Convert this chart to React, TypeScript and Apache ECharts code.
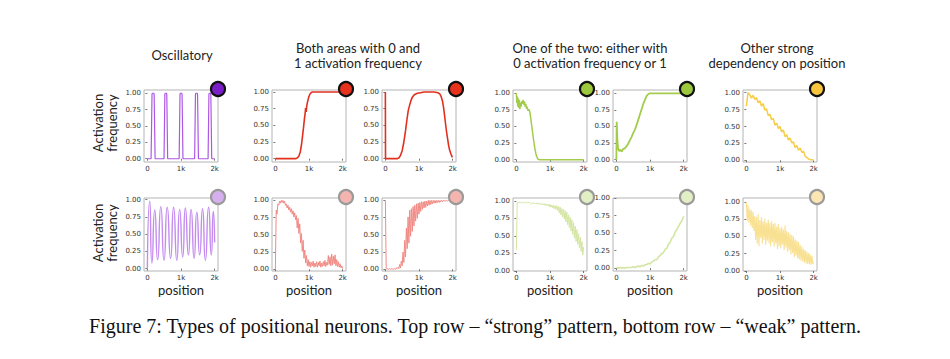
import React, { useEffect, useRef } from "react";
import * as echarts from "echarts";

// ---------- data (x = position 0..2000, y = activation frequency) ----------
const X_TICKS = [0, 1000, 2000];
const Y_TICKS = [0, 0.25, 0.5, 0.75, 1];
const GROUP_TITLES = [
  ["Oscillatory"],
  ["Both areas with 0 and", "1 activation frequency"],
  ["One of the two: either with", "0 activation frequency or 1"],
  ["Other strong", "dependency on position"],
];
const Y_LABEL = ["Activation", "frequency"];
const X_LABEL = "position";
const CAPTION =
  "Figure 7: Types of positional neurons. Top row \u2013 \u201cstrong\u201d pattern, bottom row \u2013 \u201cweak\u201d pattern.";

// explicit [position, value] points
const oscStrong = [
  [0, 0], [110, 0], [125, 0.5], [138, 0.98], [145, 1], [195, 1], [202, 0.98], [215, 0.5], [230, 0],
  [495, 0], [508, 0.5], [520, 0.98], [527, 1], [570, 1], [577, 0.98], [590, 0.5], [603, 0],
  [945, 0], [958, 0.5], [970, 0.98], [977, 1], [1025, 1], [1032, 0.98], [1045, 0.5], [1058, 0],
  [1405, 0], [1418, 0.5], [1430, 0.98], [1437, 1], [1485, 1], [1492, 0.98], [1505, 0.5], [1518, 0],
  [1805, 0], [1818, 0.5], [1830, 0.98], [1837, 1], [1880, 1], [1887, 0.98], [1900, 0.5], [1913, 0],
  [2000, 0],
];
const oscWeak = [
  [0, 0.01], [70, 0.98], [135, 0.08], [220, 0.85], [305, 0.13], [400, 0.9], [495, 0.12], [590, 0.89],
  [690, 0.15], [780, 0.89], [875, 0.12], [960, 0.86], [1050, 0.17], [1130, 0.88], [1220, 0.2],
  [1300, 0.86], [1390, 0.15], [1470, 0.82], [1555, 0.2], [1640, 0.87], [1725, 0.12], [1820, 0.89],
  [1900, 0.2], [1960, 0.83], [2000, 0.38],
];
const bothStrongA = [
  [0, 0], [600, 0], [650, 0.01], [700, 0.04], [740, 0.1], [780, 0.22], [810, 0.35], [840, 0.48],
  [865, 0.6], [885, 0.68], [900, 0.76], [915, 0.7], [935, 0.8], [960, 0.86], [990, 0.92],
  [1020, 0.96], [1060, 0.99], [1100, 1], [2000, 1],
];
const bothStrongB = [
  [0, 1], [5, 0], [350, 0], [400, 0.01], [450, 0.05], [500, 0.12], [550, 0.25], [600, 0.42],
  [640, 0.58], [680, 0.72], [720, 0.8], [760, 0.87], [800, 0.92], [860, 0.96], [950, 0.98],
  [1050, 0.99], [1150, 1], [1450, 1], [1560, 0.99], [1620, 0.97], [1660, 0.93], [1700, 0.86],
  [1730, 0.77], [1760, 0.65], [1790, 0.52], [1820, 0.4], [1850, 0.3], [1880, 0.2], [1910, 0.13],
  [1950, 0.07], [1990, 0.02],
];
const oneStrongA = [
  [0, 1.0], [15, 0.85], [30, 0.95], [45, 0.8], [60, 0.92], [75, 0.78], [90, 0.9], [105, 0.76],
  [120, 0.86], [140, 0.8], [160, 0.88], [180, 0.84], [200, 0.9], [220, 0.83], [240, 0.88],
  [260, 0.8], [280, 0.84], [300, 0.77], [320, 0.8], [340, 0.74], [370, 0.76], [400, 0.72],
  [430, 0.62], [460, 0.5], [490, 0.38], [520, 0.27], [550, 0.17], [580, 0.09], [610, 0.04],
  [640, 0.01], [680, 0], [2000, 0],
];
const oneStrongB = [
  [0, 0], [10, 0.57], [30, 0.3], [50, 0.17], [80, 0.13], [120, 0.15], [160, 0.12], [200, 0.16],
  [250, 0.17], [300, 0.2], [350, 0.24], [400, 0.29], [450, 0.34], [500, 0.4], [550, 0.45],
  [600, 0.52], [650, 0.6], [700, 0.68], [750, 0.76], [800, 0.84], [850, 0.9], [900, 0.96],
  [950, 0.99], [1000, 1.0], [2000, 1.0],
];

// evenly spaced values (step 25 → 81 values, step 50 → 41 values)
const bothWeakA = [
  0.0, 0.86, 0.8, 0.95, 0.93, 0.99, 0.96, 1.0, 0.97, 1.0, 0.96, 0.99, 0.93, 0.95, 0.89, 0.93,
  0.86, 0.9, 0.83, 0.88, 0.8, 0.85, 0.76, 0.82, 0.72, 0.78, 0.6, 0.74, 0.52, 0.66, 0.38, 0.52,
  0.26, 0.42, 0.16, 0.28, 0.09, 0.2, 0.05, 0.14, 0.04, 0.11, 0.03, 0.1, 0.05, 0.12, 0.03, 0.09,
  0.04, 0.11, 0.03, 0.1, 0.05, 0.12, 0.03, 0.09, 0.04, 0.11, 0.05, 0.13, 0.04, 0.1, 0.06, 0.2,
  0.07, 0.18, 0.05, 0.22, 0.06, 0.19, 0.08, 0.21, 0.05, 0.14, 0.04, 0.11, 0.03, 0.08, 0.02, 0.05,
  0.01,
];
const bothWeakB = [
  1.0, 0.01, 0.0, 0.01, 0.0, 0.01, 0.0, 0.01, 0.0, 0.01, 0.0, 0.01, 0.0, 0.02, 0.01, 0.03,
  0.01, 0.07, 0.02, 0.12, 0.05, 0.25, 0.1, 0.42, 0.18, 0.6, 0.3, 0.76, 0.38, 0.86, 0.48, 0.88,
  0.55, 0.91, 0.63, 0.93, 0.7, 0.95, 0.74, 0.96, 0.8, 0.97, 0.84, 0.98, 0.87, 0.98, 0.89, 0.99,
  0.9, 0.99, 0.92, 1.0, 0.93, 1.0, 0.94, 1.0, 0.95, 1.0, 0.96, 1.0, 0.96, 1.0, 0.97, 1.0,
  0.97, 1.0, 0.98, 1.0, 0.98, 1.0, 0.99, 1.0, 0.99, 1.0, 0.99, 1.0, 1.0, 1.0, 1.0, 1.0,
  1.0,
];
const oneWeakA = [
  0.3, 0.97, 0.98, 0.97, 0.98, 0.97, 0.98, 0.97, 0.98, 0.97, 0.98, 0.97, 0.98, 0.97, 0.98, 0.97,
  0.97, 0.96, 0.97, 0.96, 0.97, 0.96, 0.97, 0.96, 0.97, 0.95, 0.97, 0.95, 0.96, 0.95, 0.96, 0.94,
  0.96, 0.94, 0.96, 0.93, 0.95, 0.93, 0.95, 0.92, 0.95, 0.91, 0.94, 0.9, 0.94, 0.89, 0.93, 0.88,
  0.93, 0.86, 0.92, 0.83, 0.91, 0.8, 0.89, 0.77, 0.88, 0.74, 0.86, 0.7, 0.84, 0.66, 0.8, 0.62,
  0.77, 0.57, 0.73, 0.52, 0.69, 0.47, 0.64, 0.42, 0.59, 0.38, 0.53, 0.33, 0.48, 0.28, 0.42, 0.23,
  0.34,
];
const oneWeakB = [
  0.01, 0.0, 0.01, 0.0, 0.01, 0.0, 0.01, 0.01, 0.01, 0.01, 0.02, 0.01, 0.02, 0.03, 0.02, 0.04,
  0.03, 0.05, 0.05, 0.07, 0.06, 0.09, 0.1, 0.12, 0.12, 0.16, 0.18, 0.21, 0.22, 0.27, 0.28, 0.34,
  0.37, 0.43, 0.45, 0.52, 0.55, 0.6, 0.64, 0.68, 0.74,
];
const otherStrong = [
  0.8, 1.0, 0.97, 0.92, 0.96, 0.9, 0.93, 0.85, 0.88, 0.8, 0.84, 0.74, 0.76, 0.66, 0.68, 0.6,
  0.62, 0.52, 0.55, 0.47, 0.5, 0.42, 0.45, 0.35, 0.38, 0.3, 0.33, 0.26, 0.27, 0.19, 0.22, 0.15,
  0.18, 0.12, 0.13, 0.06, 0.04, 0.02, 0.01, 0.01, 0.0,
];
const otherWeak = [
  1.0, 0.72, 0.95, 0.7, 0.9, 0.66, 0.88, 0.62, 0.86, 0.58, 0.8, 0.45, 0.78, 0.4, 0.82, 0.36,
  0.74, 0.48, 0.78, 0.4, 0.72, 0.45, 0.76, 0.38, 0.7, 0.44, 0.74, 0.4, 0.7, 0.36, 0.72, 0.42,
  0.68, 0.35, 0.7, 0.4, 0.64, 0.32, 0.68, 0.36, 0.62, 0.33, 0.64, 0.38, 0.6, 0.3, 0.66, 0.34,
  0.58, 0.28, 0.56, 0.3, 0.54, 0.24, 0.52, 0.26, 0.5, 0.2, 0.46, 0.22, 0.44, 0.18, 0.42, 0.17,
  0.38, 0.15, 0.35, 0.14, 0.32, 0.12, 0.3, 0.11, 0.28, 0.1, 0.26, 0.1, 0.24, 0.09, 0.22, 0.1,
  0.13,
];

const spaced = (ys: number[], step: number) => ys.map((y, i) => [i * step, y]);

// ---------- layout & styles ----------
const COL_LEFT = [144, 272, 382, 513, 613, 743];
const COL_TITLE_X = [182, 358, 590, 777];
const PLOT_W = 74;
const ROW_TOP = [90, 198];
const ROW_H = [72, 73];

type Panel = {
  col: number;
  row: number;
  data: number[][];
  line: string;
  dot: string;
  ring: string;
  ymin: number;
  ymax: number;
  width: number;
  smooth?: number;
};

const panels: Panel[] = [
  { col: 0, row: 0, data: oscStrong, line: "#ad58e4", dot: "#7a1fc8", ring: "#111", ymin: -0.05, ymax: 1.05, width: 1.2 },
  { col: 1, row: 0, data: bothStrongA, line: "#e2301f", dot: "#e8321e", ring: "#111", ymin: -0.05, ymax: 1.03, width: 1.6 },
  { col: 2, row: 0, data: bothStrongB, line: "#e2301f", dot: "#e8321e", ring: "#111", ymin: -0.05, ymax: 1.03, width: 1.6 },
  { col: 3, row: 0, data: oneStrongA, line: "#a3cc4a", dot: "#9bc83c", ring: "#111", ymin: -0.035, ymax: 1.05, width: 1.5 },
  { col: 4, row: 0, data: oneStrongB, line: "#a3cc4a", dot: "#9bc83c", ring: "#111", ymin: -0.035, ymax: 1.05, width: 1.8 },
  { col: 5, row: 0, data: spaced(otherStrong, 50), line: "#f6cd45", dot: "#f7c63d", ring: "#111", ymin: -0.025, ymax: 1.04, width: 1.5 },
  { col: 0, row: 1, data: oscWeak, line: "#c58cef", dot: "#d6b0ee", ring: "#9a9a9a", ymin: -0.035, ymax: 1.025, width: 1.4, smooth: 0.7 },
  { col: 1, row: 1, data: spaced(bothWeakA, 25), line: "#f08a84", dot: "#f4b5b1", ring: "#9a9a9a", ymin: -0.025, ymax: 1.035, width: 1 },
  { col: 2, row: 1, data: spaced(bothWeakB, 25), line: "#f08a84", dot: "#f4b5b1", ring: "#9a9a9a", ymin: -0.025, ymax: 1.035, width: 1 },
  { col: 3, row: 1, data: spaced(oneWeakA, 25), line: "#d3e5a2", dot: "#e2efc4", ring: "#9a9a9a", ymin: 0, ymax: 1.04, width: 1 },
  { col: 4, row: 1, data: spaced(oneWeakB, 50), line: "#d3e5a2", dot: "#e2efc4", ring: "#9a9a9a", ymin: -0.04, ymax: 1.0, width: 1.6 },
  { col: 5, row: 1, data: spaced(otherWeak, 25), line: "#f9e194", dot: "#fbe6b3", ring: "#9a9a9a", ymin: 0, ymax: 1.057, width: 1.1 },
];

const SANS = "Lato, 'Open Sans', sans-serif";
const TEXT = "#222";

export default function App() {
  const ref = useRef<HTMLDivElement>(null);

  useEffect(() => {
    document.body.style.margin = "0";
    if (!ref.current) return;
    const chart = echarts.init(ref.current, undefined, { renderer: "svg" });

    const grid = panels.map((p) => ({
      left: COL_LEFT[p.col],
      top: ROW_TOP[p.row],
      width: PLOT_W,
      height: ROW_H[p.row],
      show: true,
      borderColor: "#b4b4b4",
      borderWidth: 1,
      containLabel: false,
    }));

    const xAxis = panels.map((_, i) => ({
      type: "value",
      gridIndex: i,
      min: -100,
      max: 2100,
      axisLine: { show: false },
      splitLine: { show: false },
      axisTick: { show: true, customValues: X_TICKS, length: 2, lineStyle: { color: "#555", width: 0.8 } },
      axisLabel: {
        customValues: X_TICKS,
        formatter: (v: number) => (v === 0 ? "0" : `${v / 1000}k`),
        fontSize: 7,
        color: "#333",
        margin: 3,
        fontFamily: "DejaVu Sans",
      },
    }));

    const yAxis = panels.map((p, i) => ({
      type: "value",
      gridIndex: i,
      min: p.ymin,
      max: p.ymax,
      axisLine: { show: false },
      splitLine: { show: false },
      axisTick: { show: true, customValues: Y_TICKS, length: 2, lineStyle: { color: "#555", width: 0.8 } },
      axisLabel: {
        customValues: Y_TICKS,
        formatter: (v: number) => v.toFixed(2),
        fontSize: 7,
        color: "#333",
        margin: 3,
        fontFamily: "DejaVu Sans",
      },
    }));

    const series = panels.map((p, i) => ({
      type: "line",
      xAxisIndex: i,
      yAxisIndex: i,
      data: p.data,
      symbol: "none",
      showSymbol: false,
      smooth: p.smooth ?? false,
      clip: true,
      lineStyle: { color: p.line, width: p.width },
      itemStyle: { color: p.line },
      z: 2,
    }));

    const graphic: any[] = [];
    // colored markers at the top-right corner of each panel
    panels.forEach((p) => {
      graphic.push({
        type: "circle",
        shape: { cx: COL_LEFT[p.col] + PLOT_W, cy: ROW_TOP[p.row] - 1, r: 7 },
        style: { fill: p.dot, stroke: p.ring, lineWidth: 2.2 },
        z: 10,
      });
    });
    // group titles
    GROUP_TITLES.forEach((lines, g) => {
      const y0 = lines.length === 1 ? 55 : 48;
      lines.forEach((t, k) => {
        graphic.push({
          type: "text",
          x: COL_TITLE_X[g],
          y: y0 + k * 15,
          style: { text: t, fill: TEXT, font: `13px ${SANS}`, align: "center", verticalAlign: "middle" },
        });
      });
    });
    // y labels
    [123, 233].forEach((cy) => {
      Y_LABEL.forEach((t, k) => {
        graphic.push({
          type: "text",
          x: 98 + k * 14,
          y: cy,
          rotation: Math.PI / 2,
          style: { text: t, fill: TEXT, font: `13px ${SANS}`, align: "center", verticalAlign: "middle" },
        });
      });
    });
    // x labels under bottom row
    COL_LEFT.forEach((l) => {
      graphic.push({
        type: "text",
        x: l + PLOT_W / 2,
        y: 290,
        style: { text: X_LABEL, fill: TEXT, font: `13px ${SANS}`, align: "center", verticalAlign: "middle" },
      });
    });
    // caption
    graphic.push({
      type: "text",
      x: 475,
      y: 326,
      style: {
        text: CAPTION,
        fill: "#111",
        font: "20px 'Liberation Serif', 'Times New Roman', serif",
        align: "center",
        verticalAlign: "middle",
      },
    });

    chart.setOption({
      animation: false,
      backgroundColor: "#ffffff",
      grid,
      xAxis,
      yAxis,
      series,
      graphic,
    } as any);

    return () => chart.dispose();
  }, []);

  return <div ref={ref} style={{ width: 950, height: 359 }} />;
}
